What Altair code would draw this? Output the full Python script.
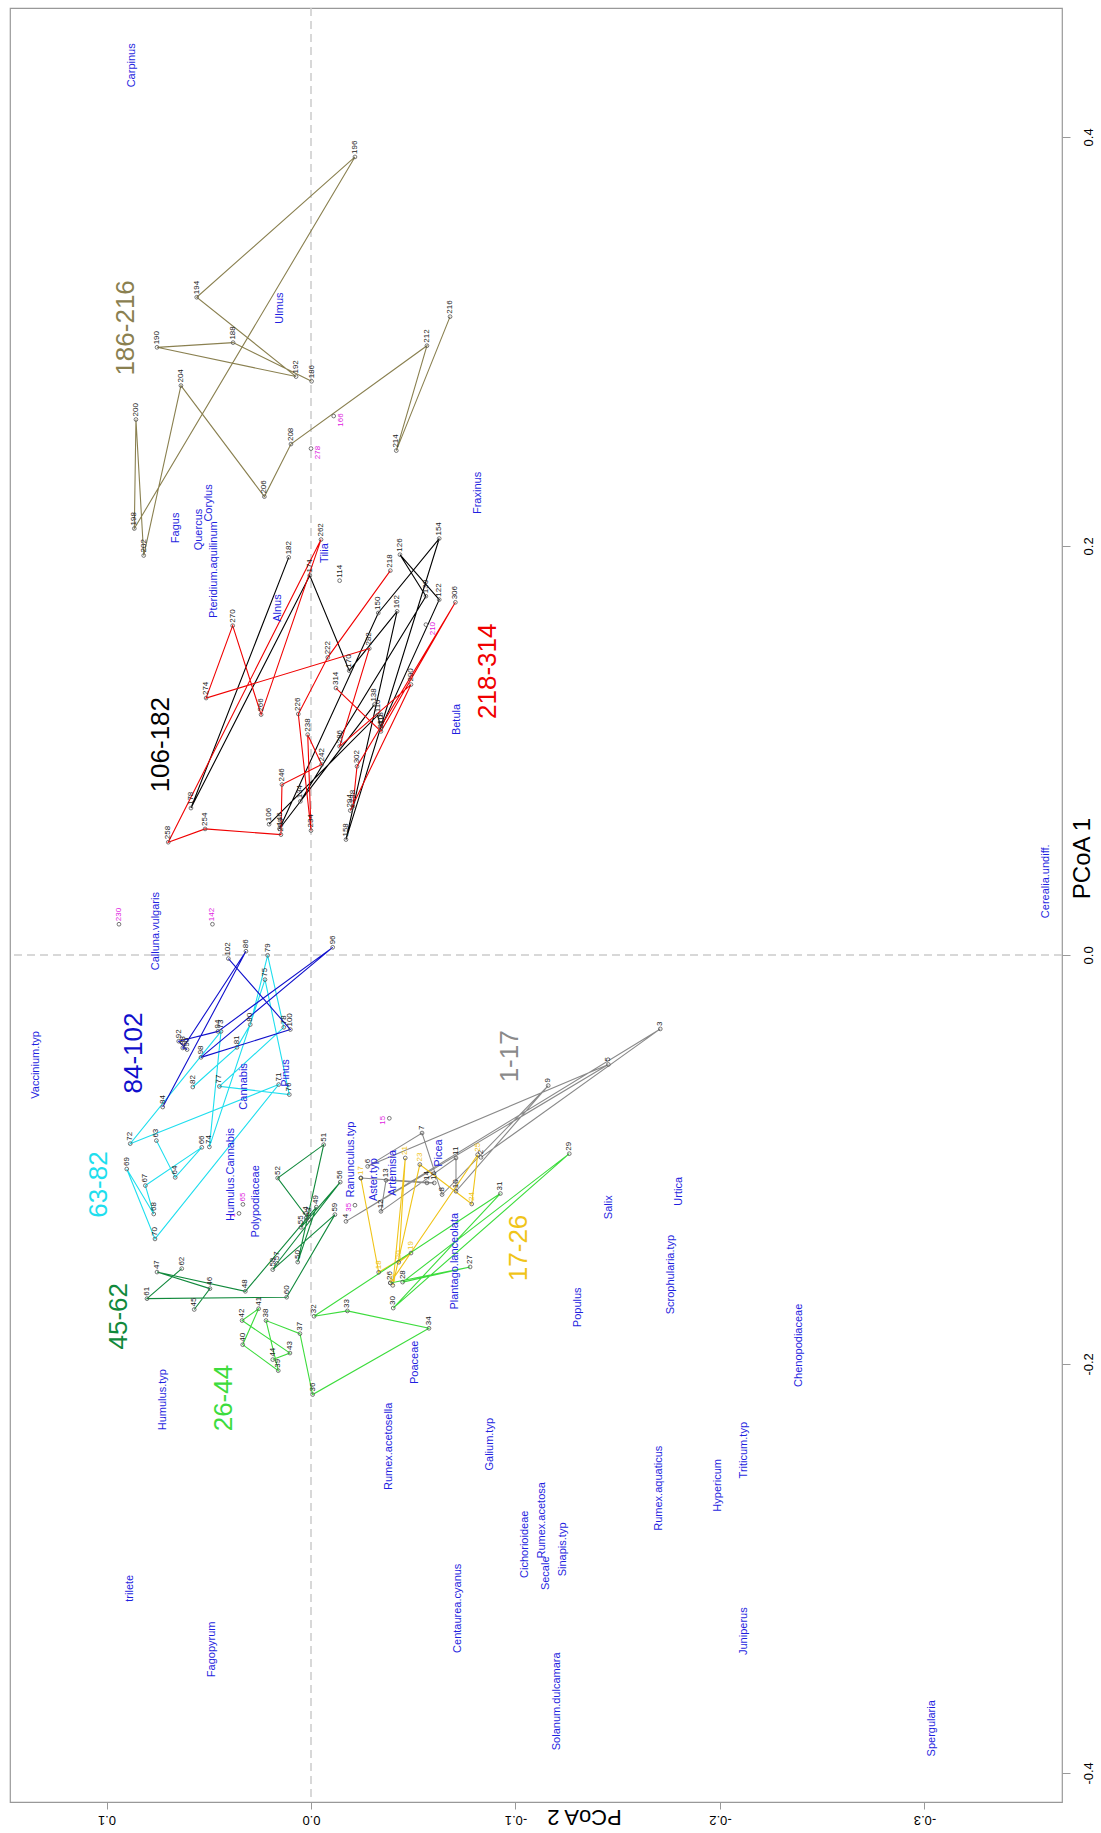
import altair as alt
import pandas as pd

# ---------------- sample scores by pollen zone (stratigraphic order) ----------------
z01_ids = [2, 3, 4, 5, 6, 7, 8, 9, 10, 11, 12, 13, 14, 16, 17]
z01_pc1 = [-0.0990, -0.0362, -0.1303, -0.0536, -0.1034, -0.0871, -0.1172, -0.0639,
           -0.1156, -0.0993, -0.1254, -0.1102, -0.1115, -0.1115, -0.1091]
z01_pc2 = [-0.0831, -0.1708, -0.0171, -0.1454, -0.0277, -0.0543, -0.0641, -0.1160,
           -0.0709, -0.0709, -0.0342, -0.0367, -0.0567, -0.0603, -0.0244]

z17_ids = [17, 18, 19, 20, 21, 22, 23, 24, 25, 26]
z17_pc1 = [-0.1091, -0.1552, -0.1458, -0.1503, -0.0993, -0.1616, -0.1025, -0.1218, -0.0977, -0.1604]
z17_pc2 = [-0.0244, -0.0331, -0.0489, -0.0429, -0.0461, -0.0400, -0.0532, -0.0786, -0.0815, -0.0388]

z26_ids = [26, 27, 28, 29, 30, 31, 32, 33, 34, 36, 37, 38, 39, 40, 41, 42, 43, 44]
z26_pc1 = [-0.1604, -0.1526, -0.1600, -0.0972, -0.1727, -0.1167, -0.1767, -0.1741, -0.1826,
           -0.2150, -0.1852, -0.1788, -0.2033, -0.1906, -0.1730, -0.1788, -0.1947, -0.1979]
z26_pc2 = [-0.0388, -0.0778, -0.0448, -0.1263, -0.0402, -0.0926, -0.0015, -0.0178, -0.0577,
           -0.0008, 0.0054, 0.0220, 0.0160, 0.0334, 0.0256, 0.0337, 0.0103, 0.0187]

z45_ids = list(range(45, 63))
z45_pc1 = [-0.1734, -0.1632, -0.1551, -0.1645, -0.1233, -0.1502, -0.0928, -0.1091, -0.1294,
           -0.1287, -0.1332, -0.1111, -0.1508, -0.1539, -0.1270, -0.1674, -0.1681, -0.1534]
z45_pc2 = [0.0571, 0.0494, 0.0753, 0.0321, -0.0026, 0.0065, -0.0062, 0.0163, 0.0011,
           0.0024, 0.0049, -0.0143, 0.0166, 0.0187, -0.0117, 0.0119, 0.0802, 0.0632]

z63_ids = [63, 64, 66, 67, 68, 69, 70, 71, 72, 73, 74, 75, 76, 77, 78, 79, 80, 81, 82]
z63_pc1 = [-0.0908, -0.1088, -0.0941, -0.1128, -0.1267, -0.1047, -0.1389, -0.0634, -0.0923, -0.0374,
           -0.0939, -0.0121, -0.0683, -0.0643, -0.0354, -0.0002, -0.0341, -0.0452, -0.0646]
z63_pc2 = [0.0756, 0.0664, 0.0534, 0.0810, 0.0769, 0.0901, 0.0763, 0.0158, 0.0884, 0.0440,
           0.0497, 0.0225, 0.0106, 0.0448, 0.0133, 0.0212, 0.0297, 0.0362, 0.0578]

z84_ids = [84, 86, 88, 90, 92, 94, 96, 98, 100, 102]
z84_pc1 = [-0.0744, 0.0018, -0.0455, -0.0463, -0.0422, -0.0374, 0.0037, -0.0501, -0.0365, -0.0018]
z84_pc2 = [0.0725, 0.0318, 0.0627, 0.0606, 0.0647, 0.0455, -0.0106, 0.0538, 0.0101, 0.0404]

z106_ids = [106, 110, 118, 122, 126, 130, 134, 138, 146, 150, 154, 158, 162, 170, 174, 178, 182]
z106_pc1 = [0.0639, 0.1172, 0.1110, 0.1737, 0.1957, 0.1754, 0.0751, 0.1224, 0.0617,
            0.1672, 0.2036, 0.0564, 0.1680, 0.1390, 0.1855, 0.0718, 0.1944]
z106_pc2 = [0.0205, -0.0326, -0.0342, -0.0627, -0.0435, -0.0562, 0.0052, -0.0310, 0.0154,
            -0.0329, -0.0627, -0.0171, -0.0421, -0.0187, 0.0006, 0.0587, 0.0109]

z186_ids = [186, 188, 190, 192, 194, 196, 198, 200, 202, 204, 206, 208, 212, 214, 216]
z186_pc1 = [0.2805, 0.2994, 0.2971, 0.2828, 0.3216, 0.3902, 0.2085, 0.2618, 0.1953,
            0.2784, 0.2241, 0.2498, 0.2979, 0.2466, 0.3121]
z186_pc2 = [-0.0003, 0.0381, 0.0753, 0.0073, 0.0559, -0.0215, 0.0864, 0.0856, 0.0818,
            0.0636, 0.0228, 0.0098, -0.0567, -0.0417, -0.0680]

z218_ids = [218, 222, 226, 234, 238, 242, 246, 250, 254, 258, 262, 266, 270, 274,
            282, 286, 290, 294, 298, 302, 306, 310, 314]
z218_pc1 = [0.1879, 0.1455, 0.1178, 0.0608, 0.1077, 0.0931, 0.0833, 0.0588, 0.0616, 0.0551,
            0.2031, 0.1175, 0.1610, 0.1256, 0.1498, 0.1020, 0.1322, 0.0706, 0.0727, 0.0922,
            0.1724, 0.1093, 0.1305]
z218_pc2 = [-0.0388, -0.0082, 0.0062, 0.0000, 0.0016, -0.0052, 0.0142, 0.0147, 0.0518, 0.0698,
            -0.0049, 0.0244, 0.0383, 0.0513, -0.0285, -0.0140, -0.0489, -0.0192, -0.0205, -0.0225,
            -0.0706, -0.0342, -0.0122]

# samples plotted but not joined into a zone trajectory
loose_ids = [114]
loose_pc1 = [0.1830]
loose_pc2 = [-0.0140]

# outlying samples
odd_ids = [1, 15, 35, 65, 142, 166, 210, 230, 278]
odd_pc1 = [-0.1264, -0.0799, -0.1224, -0.1220, 0.0150, 0.2635, 0.1615, 0.0150, 0.2476]
odd_pc2 = [0.0352, -0.0383, -0.0215, 0.0333, 0.0482, -0.0111, -0.0562, 0.0939, 0.0000]

# ---------------- taxa scores ----------------
taxa_names = ["Carpinus", "Ulmus", "Fagus", "Quercus", "Corylus", "Pteridium.aquilinum",
              "Fraxinus", "Tilia", "Alnus", "Betula", "Calluna.vulgaris", "Cerealia.undiff.",
              "Vaccinium.typ", "Humulus.Cannabis", "Polypodiaceae", "Cannabis", "Pinus",
              "Ranunculus.typ", "Aster.typ", "Artemisia", "Picea", "Plantago.lanceolata",
              "Salix", "Urtica", "Scrophularia.typ", "Populus", "Humulus.typ", "Poaceae",
              "Chenopodiaceae", "Rumex.acetosella", "Galium.typ", "Triticum.typ",
              "Rumex.aquaticus", "Hypericum", "Rumex.acetosa", "Cichorioideae", "Sinapis.typ",
              "Secale", "trilete", "Centaurea.cyanus", "Fagopyrum", "Juniperus",
              "Solanum.dulcamara", "Spergularia"]
taxa_pc1 = [0.4350, 0.3163, 0.2088, 0.2080, 0.2210, 0.1884,
            0.2259, 0.1965, 0.1696, 0.1151, 0.0116, 0.0360,
            -0.0538, -0.1074, -0.1205, -0.0643, -0.0578,
            -0.1001, -0.1099, -0.1066, -0.0969, -0.1498,
            -0.1234, -0.1156, -0.1563, -0.1723, -0.2175, -0.1992,
            -0.1909, -0.2403, -0.2393, -0.2422,
            -0.2608, -0.2594, -0.2765, -0.2882, -0.2907,
            -0.3024, -0.3097, -0.3195, -0.3396, -0.3307,
            -0.3650, -0.3782]
taxa_pc2 = [0.0875, 0.0152, 0.0660, 0.0546, 0.0497, 0.0473,
            -0.0815, -0.0068, 0.0163, -0.0714, 0.0758, -0.3594,
            0.1345, 0.0391, 0.0269, 0.0326, 0.0122,
            -0.0196, -0.0307, -0.0400, -0.0627, -0.0704,
            -0.1459, -0.1801, -0.1760, -0.1304, 0.0725, -0.0507,
            -0.2386, -0.0381, -0.0873, -0.2117,
            -0.1702, -0.1988, -0.1130, -0.1045, -0.1232,
            -0.1148, 0.0887, -0.0719, 0.0482, -0.2117,
            -0.1203, -0.3037]

# ---------------- zone names and where their titles sit ----------------
zone_names = ["1-17", "17-26", "26-44", "45-62", "63-82", "84-102", "106-182", "186-216", "218-314"]
zone_colors = ["#8a8a8a", "#f0c419", "#3ddc3d", "#11893c", "#1fdeee", "#1010cc", "#000000", "#8a8050", "#f00000"]
zone_widths = [1.1, 1.1, 1.2, 1.6, 1.6, 1.6, 1.6, 1.6, 1.6]
title_pc1 = [-0.0496, -0.1433, -0.2167, -0.1767, -0.1123, -0.0480, 0.1028, 0.3066, 0.1387]
title_pc2 = [-0.0975, -0.1019, 0.0424, 0.0937, 0.1035, 0.0867, 0.0733, 0.0905, -0.0864]

FONT = "Liberation Sans"
TAXA_BLUE = "#1f1fe0"
MAGENTA = "#e020e0"

zones = [
    ("1-17", z01_ids, z01_pc1, z01_pc2),
    ("17-26", z17_ids, z17_pc1, z17_pc2),
    ("26-44", z26_ids, z26_pc1, z26_pc2),
    ("45-62", z45_ids, z45_pc1, z45_pc2),
    ("63-82", z63_ids, z63_pc1, z63_pc2),
    ("84-102", z84_ids, z84_pc1, z84_pc2),
    ("106-182", z106_ids, z106_pc1, z106_pc2),
    ("186-216", z186_ids, z186_pc1, z186_pc2),
    ("218-314", z218_ids, z218_pc1, z218_pc2),
]

rows = []
for name, ids, p1, p2 in zones:
    for k, (i, a, b) in enumerate(zip(ids, p1, p2)):
        rows.append({"zone": name, "step": k, "sample": str(i), "pc1": a, "pc2": b})
path_df = pd.DataFrame(rows)

loose_df = pd.DataFrame({"sample": [str(i) for i in loose_ids], "pc1": loose_pc1, "pc2": loose_pc2})
odd_df = pd.DataFrame({"id": odd_ids, "sample": [str(i) for i in odd_ids], "pc1": odd_pc1, "pc2": odd_pc2})

points_df = pd.concat([path_df[["sample", "pc1", "pc2"]], loose_df, odd_df[["sample", "pc1", "pc2"]]],
                      ignore_index=True)

# sample labels: zone 17-26 is labelled in its own colour, the rest in black
lab = path_df.drop_duplicates("sample", keep="last")
yellow_lab = lab[lab["zone"] == "17-26"]
black_lab = pd.concat([lab[lab["zone"] != "17-26"][["sample", "pc1", "pc2"]], loose_df], ignore_index=True)

# outlier labels are set beside their points on whichever side is free
odd_left = odd_df[odd_df["id"].isin([1, 15, 35])]
odd_up = odd_df[odd_df["id"].isin([65, 142, 230])]
odd_right = odd_df[odd_df["id"].isin([166, 210, 278])]

taxa_df = pd.DataFrame({"taxon": taxa_names, "pc1": taxa_pc1, "pc2": taxa_pc2})
titles_df = pd.DataFrame({"zone": zone_names, "pc1": title_pc1, "pc2": title_pc2})
origin_df = pd.DataFrame({"pc1": [0.0], "pc2": [0.0]})

# ---------------- scales and axes ----------------
W, H = 1052, 1794
label_expr = "replace(format(datum.value, '.1f'), '\u2212', '-')"

x_axis = alt.Axis(
    orient="bottom", values=[0.1, 0.0, -0.1, -0.2, -0.3], labelExpr=label_expr,
    labelAngle=180, labelAlign="center", labelBaseline="middle", labelPadding=10,
    labelFont=FONT, labelFontSize=13, labelColor="#000000", labelFlush=False, labelOverlap=False,
    tickSize=7, tickColor="#999999", domain=False, grid=False,
    title="PCoA 2", titleFont=FONT, titleFontSize=22, titleFontWeight="normal", titleColor="#000000",
    titleAngle=180, titleAlign="center", titleBaseline="middle", titleX=574, titleY=14,
)
y_axis = alt.Axis(
    orient="right", values=[-0.4, -0.2, 0.0, 0.2, 0.4], labelExpr=label_expr,
    labelAngle=270, labelAlign="center", labelBaseline="middle", labelPadding=18,
    labelFont=FONT, labelFontSize=13, labelColor="#000000", labelFlush=False, labelOverlap=False,
    tickSize=8, tickColor="#999999", domain=False, grid=False,
    title="PCoA 1", titleFont=FONT, titleFontSize=24, titleFontWeight="normal", titleColor="#000000",
    titleAngle=270, titleAlign="center", titleBaseline="middle", titleX=20, titleY=850,
)

X = alt.X("pc2:Q", scale=alt.Scale(domain=[-0.36724, 0.14719], reverse=True, nice=False, zero=False),
          axis=x_axis)
Y = alt.Y("pc1:Q", scale=alt.Scale(domain=[-0.41423, 0.46303], nice=False, zero=False), axis=y_axis)

zone_scale = alt.Scale(domain=zone_names, range=zone_colors)
width_scale = alt.Scale(domain=zone_names, range=zone_widths)

# ---------------- layers ----------------
v_zero = alt.Chart(origin_df).mark_rule(color="#cccccc", strokeDash=[8, 5], strokeWidth=1.5).encode(x=X)
h_zero = alt.Chart(origin_df).mark_rule(color="#cccccc", strokeDash=[8, 5], strokeWidth=1.5).encode(y=Y)

paths = alt.Chart(path_df).mark_line().encode(
    x=X, y=Y,
    color=alt.Color("zone:N", scale=zone_scale, legend=None),
    strokeWidth=alt.StrokeWidth("zone:N", scale=width_scale, legend=None),
    detail="zone:N",
    order="step:Q",
)

dots = alt.Chart(points_df).mark_point(
    shape="circle", filled=False, size=14, strokeWidth=0.8, color="#555555", opacity=1
).encode(x=X, y=Y)

black_text = alt.Chart(black_lab).mark_text(
    angle=270, align="left", baseline="middle", dx=3, fontSize=8, font=FONT, color="#222222"
).encode(x=X, y=Y, text="sample:N")

yellow_text = alt.Chart(yellow_lab).mark_text(
    angle=270, align="left", baseline="middle", dx=3, fontSize=8, font=FONT, color="#f0c419"
).encode(x=X, y=Y, text="sample:N")

odd_style = dict(angle=270, baseline="middle", fontSize=8, font=FONT, color=MAGENTA)
odd_text_left = alt.Chart(odd_left).mark_text(align="center", dx=-2, dy=-6, **odd_style).encode(
    x=X, y=Y, text="sample:N")
odd_text_up = alt.Chart(odd_up).mark_text(align="left", dx=3, **odd_style).encode(
    x=X, y=Y, text="sample:N")
odd_text_right = alt.Chart(odd_right).mark_text(align="center", dx=-4, dy=7, **odd_style).encode(
    x=X, y=Y, text="sample:N")

taxa_text = alt.Chart(taxa_df).mark_text(
    angle=270, align="center", baseline="middle", fontSize=11, font=FONT, color=TAXA_BLUE
).encode(x=X, y=Y, text="taxon:N")

zone_text = alt.Chart(titles_df).mark_text(
    angle=270, align="center", baseline="middle", fontSize=26, font=FONT
).encode(x=X, y=Y, text="zone:N", color=alt.Color("zone:N", scale=zone_scale, legend=None))

chart = alt.layer(
    v_zero, h_zero, paths, dots, black_text, yellow_text,
    odd_text_left, odd_text_up, odd_text_right, taxa_text, zone_text
).properties(
    width=W, height=H,
    padding={"left": 9, "top": 7, "right": 6, "bottom": 14},
    background="#ffffff",
).configure_view(stroke="#999999", strokeWidth=1.2)

chart.save("out.html", embed_options={"renderer": "svg", "actions": False})
